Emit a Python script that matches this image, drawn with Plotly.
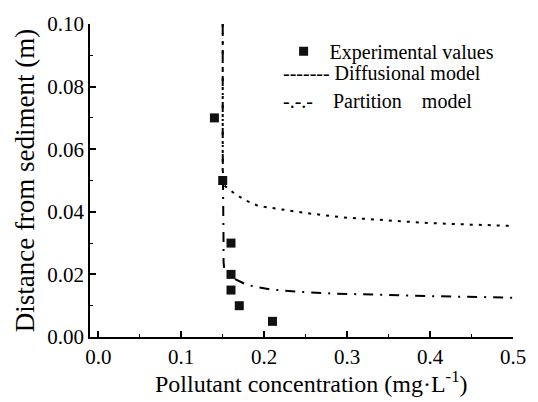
import plotly.graph_objects as go

# Experimental values
exp_conc = [0.14, 0.15, 0.16, 0.16, 0.16, 0.17, 0.21]
exp_dist = [0.070, 0.050, 0.030, 0.020, 0.015, 0.010, 0.005]

# Diffusional model
diff_conc = [0.150, 0.150, 0.150, 0.152, 0.163, 0.177, 0.191, 0.200, 0.250, 0.296, 0.350, 0.398, 0.450, 0.500]
diff_dist = [0.100, 0.070, 0.050, 0.0484, 0.0461, 0.0437, 0.0421, 0.0416, 0.0396, 0.0382, 0.0372, 0.0364, 0.0359, 0.0355]

# Partition model
part_conc = [0.150, 0.150, 0.151, 0.151, 0.152, 0.156, 0.165, 0.178, 0.190, 0.208, 0.244, 0.281, 0.343, 0.410, 0.476, 0.500]
part_dist = [0.100, 0.060, 0.030, 0.024, 0.0215, 0.0205, 0.0185, 0.0168, 0.0160, 0.0152, 0.0144, 0.0139, 0.0134, 0.0130, 0.0127, 0.0125]

x_ticks = [0.0, 0.1, 0.2, 0.3, 0.4, 0.5]
y_ticks = [0.00, 0.02, 0.04, 0.06, 0.08, 0.10]

FONT = "Times New Roman, Liberation Serif, DejaVu Serif, serif"

fig = go.Figure()
fig.add_trace(go.Scatter(
    x=diff_conc, y=diff_dist, mode="lines", name="Diffusional model",
    line=dict(color="black", width=2, dash="3px,6px"), showlegend=False))
fig.add_trace(go.Scatter(
    x=part_conc, y=part_dist, mode="lines", name="Partition model",
    line=dict(color="black", width=2, dash="10px,7px,2px,7px"), showlegend=False))
fig.add_trace(go.Scatter(
    x=exp_conc, y=exp_dist, mode="markers", name="Experimental values",
    marker=dict(symbol="square", size=9, color="#111111")))

axis_common = dict(
    showline=True, linecolor="black", linewidth=1.5, showgrid=False, zeroline=False,
    ticks="inside", ticklen=6, tickwidth=1.5, tickcolor="black",
    tickfont=dict(family=FONT, size=21, color="black"),
)

fig.update_xaxes(
    range=[-0.01, 0.5], tickvals=x_ticks, tickformat=".1f",
    minor=dict(dtick=0.05, tick0=0, ticks="inside", ticklen=3, tickwidth=1, tickcolor="black"),
    **axis_common)
fig.update_yaxes(
    range=[0, 0.1], tickvals=y_ticks, tickformat=".2f",
    title=dict(text="Distance from sediment (m)",
               font=dict(family=FONT, size=27, color="black"), standoff=5),
    minor=dict(dtick=0.01, tick0=0, ticks="inside", ticklen=3, tickwidth=1, tickcolor="black"),
    **axis_common)

fig.update_layout(
    width=538, height=402,
    margin=dict(l=90, r=15, t=17, b=65),
    plot_bgcolor="white", paper_bgcolor="white",
    font=dict(family=FONT, color="black"),
    legend=dict(x=0.4435, y=0.975, xanchor="left", yanchor="top", itemwidth=42,
                bgcolor="rgba(0,0,0,0)", font=dict(family=FONT, size=20, color="black")),
)

# x-axis title (sits slightly right of centre in the original)
fig.add_annotation(xref="paper", yref="paper", x=0.5236, y=-0.144, xanchor="center", yanchor="middle",
                   text="Pollutant concentration (mg·L<sup>-1</sup>)", showarrow=False,
                   font=dict(family=FONT, size=24, color="black"))

fig.add_annotation(xref="paper", yref="paper", x=0.4505, y=0.842, xanchor="left", yanchor="middle",
                   text="------- Diffusional model", showarrow=False,
                   font=dict(family=FONT, size=20, color="black"))
fig.add_annotation(xref="paper", yref="paper", x=0.4505, y=0.755, xanchor="left", yanchor="middle",
                   text="-.-.-&nbsp;&nbsp;&nbsp;&nbsp;Partition&nbsp;&nbsp;&nbsp;&nbsp;model", showarrow=False,
                   font=dict(family=FONT, size=20, color="black"))

fig.write_html("out.html", config={"displayModeBar": False},
               post_script="document.body.style.margin='0';")
